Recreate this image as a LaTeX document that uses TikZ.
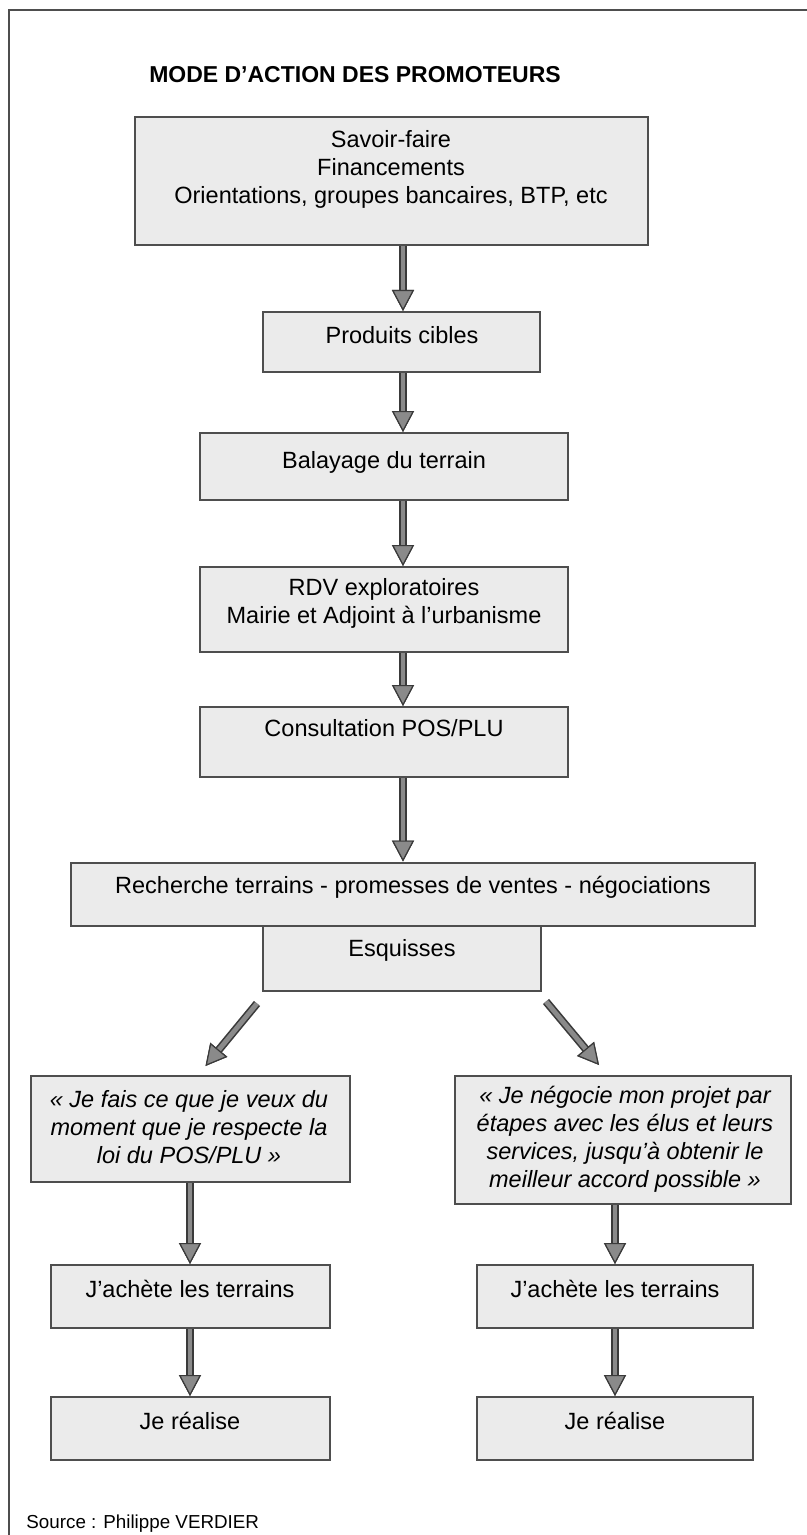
\documentclass[tikz,border=0pt]{standalone}
\usepackage{fontspec}
\setmainfont{Liberation Sans}
\usetikzlibrary{arrows.meta, positioning, calc, shadows}
\definecolor{boxfill}{HTML}{EBEBEB}
\definecolor{boxline}{HTML}{4E4E4E}
\definecolor{arrowfill}{HTML}{8A8A8A}
\definecolor{arrowline}{HTML}{3A3A3A}
\tikzset{
  box/.style={
    rectangle, draw=boxline, fill=boxfill, line width=1pt, inner sep=0pt,
    drop shadow={shadow xshift=0.6pt, shadow yshift=-0.6pt, fill=black!60, opacity=0.6}
  },
  txt/.style={align=center, inner sep=0pt, font=\fontsize{11.75}{14}\selectfont},
  quote/.style={txt, font=\fontsize{11.75}{14}\selectfont\itshape},
  flow/.style={
    draw=arrowline, line width=4pt,
    -{Triangle[width=11pt, length=10.5pt, line width=0.6pt, fill=arrowfill]},
    postaction={draw=arrowfill, line width=2.4pt,
      -{Triangle[width=11pt, length=10.5pt, line width=0.6pt, color=arrowline, fill=arrowfill]}}
  }
}

\begin{document}
\begin{tikzpicture}[x=0.5pt, y=-0.5pt]
    \useasboundingbox (0,0) rectangle (807,1535);
    
    % cadre
    \draw[boxline, line width=1pt] (8.5,1535) -- (8.5,10) -- (807,10);
    
    \node[font=\fontsize{11.5}{14}\selectfont\bfseries] (titre) at (355,75) {MODE D’ACTION DES PROMOTEURS};
    
    % tronc commun
    \node[box, minimum width=256.5pt, minimum height=64pt] (savoir) at (391.5,181) {};
    \node[txt] (savoir-t) at (391,169.5) {Savoir-faire\\Financements\\Orientations, groupes bancaires, BTP, etc};
    \node[box, minimum width=138.5pt, minimum height=30pt] (produits) at (401.5,342) {};
    \node[txt] (produits-t) at (402,335) {Produits cibles};
    \node[box, minimum width=184pt, minimum height=33.5pt] (balayage) at (384,466.5) {};
    \node[txt] (balayage-t) at (384,462) {Balayage du terrain};
    \node[box, minimum width=184pt, minimum height=42.5pt] (rdv) at (384,609.5) {};
    \node[txt] (rdv-t) at (384,603.5) {RDV exploratoires\\Mairie et Adjoint à l’urbanisme};
    \node[box, minimum width=184pt, minimum height=35pt] (pos) at (384,742) {};
    \node[txt] (pos-t) at (384,728) {Consultation POS/PLU};
    \node[box, minimum width=342pt, minimum height=31.5pt] (recherche) at (413,894) {};
    \node[txt] (recherche-t) at (413,887) {Recherche terrains - promesses de ventes - négociations};
    \node[box, minimum width=139pt, minimum height=32.5pt] (esquisses) at (402,958) {};
    \node[txt] (esquisses-t) at (402,950) {Esquisses};
    
    % branche gauche
    \node[box, minimum width=159.5pt, minimum height=53pt] (loi) at (190.5,1129) {};
    \node[quote] (loi-t) at (189,1127) {« Je fais ce que je veux du\\moment que je respecte la\\loi du POS/PLU »};
    \node[box, minimum width=139.5pt, minimum height=31.5pt] (achat1) at (190,1296.5) {};
    \node[txt] (achat1-t) at (190,1289) {J’achète les terrains};
    \node[box, minimum width=139.5pt, minimum height=31.5pt] (real1) at (190,1428.5) {};
    \node[txt] (real1-t) at (190,1421) {Je réalise};
    
    % branche droite
    \node[box, minimum width=168pt, minimum height=64pt] (negocie) at (623,1140) {};
    \node[quote] (negocie-t) at (625,1139) {« Je négocie mon projet par\\étapes avec les élus et leurs\\services, jusqu’à obtenir le\\meilleur accord possible »};
    \node[box, minimum width=138pt, minimum height=31.5pt] (achat2) at (615,1296.5) {};
    \node[txt] (achat2-t) at (615,1289) {J’achète les terrains};
    \node[box, minimum width=138pt, minimum height=31.5pt] (real2) at (615,1428.5) {};
    \node[txt] (real2-t) at (615,1421) {Je réalise};
    
    \node[anchor=west, inner sep=0pt, font=\fontsize{9.4}{11}\selectfont] (source) at (26,1524) {Source : Philippe VERDIER};
    
    % fleches
    \coordinate (axe) at (403,0);
    \draw[flow] (savoir.south -| axe) -- (produits.north -| axe);
    \draw[flow] (produits.south -| axe) -- (balayage.north -| axe);
    \draw[flow] (balayage.south -| axe) -- (rdv.north -| axe);
    \draw[flow] (rdv.south -| axe) -- (pos.north -| axe);
    \draw[flow] (pos.south -| axe) -- (recherche.north -| axe);
    \draw[flow] ($(esquisses.south west)+(-5,12)$) -- ($(loi.north)+(15,-9)$);
    \draw[flow] ($(esquisses.south east)+(4,10)$) -- ($(negocie.north)+(-24,-10)$);
    \draw[flow] (loi.south -| achat1) -- (achat1.north);
    \draw[flow] (achat1.south) -- (real1.north);
    \draw[flow] (negocie.south -| achat2) -- (achat2.north);
    \draw[flow] (achat2.south) -- (real2.north);
    
\end{tikzpicture}
\end{document}
